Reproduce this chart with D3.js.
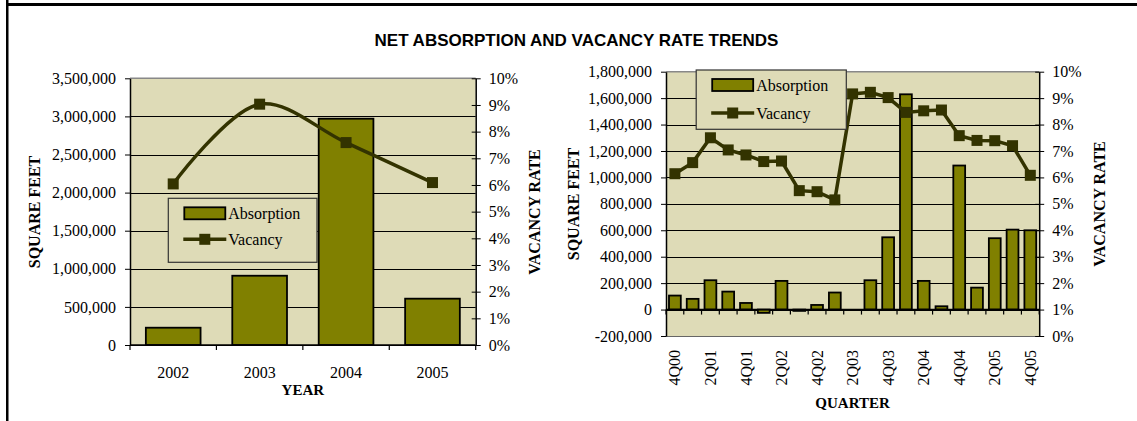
<!DOCTYPE html>
<html>
<head>
<meta charset="utf-8">
<script src="https://cdn.jsdelivr.net/npm/d3@7"></script>
<style>
  body { margin: 0; background: #fff; }
  svg text { font-family: "Liberation Serif", "Times New Roman", serif; fill: #000; }
</style>
</head>
<body>
<div id="graph"></div>
<script>
// yearly totals
const years = ["2002", "2003", "2004", "2005"];
const yearAbsorption = [227000, 909000, 2970000, 608000];
const yearVacancy = [0.0604, 0.0903, 0.0759, 0.0609];
const yearTicks = [0, 500000, 1000000, 1500000, 2000000, 2500000, 3000000, 3500000];

// quarterly
const quarters = ["4Q00", "1Q01", "2Q01", "3Q01", "4Q01", "1Q02", "2Q02", "3Q02", "4Q02", "1Q03", "2Q03",
  "3Q03", "4Q03", "1Q04", "2Q04", "3Q04", "4Q04", "1Q05", "2Q05", "3Q05", "4Q05"];
const quarterAbsorption = [106000, 81000, 222000, 136000, 50000, -25000, 217000, -10000, 35000, 129000, 0,
  222000, 547000, 1629000, 217000, 25000, 1090000, 166000, 540000, 605000, 600000];
const quarterVacancy = [0.0614, 0.0656, 0.0750, 0.0704, 0.0685, 0.0660, 0.0662, 0.0550, 0.0546, 0.0515, 0.0916,
  0.0922, 0.0902, 0.0846, 0.0852, 0.0855, 0.0758, 0.0740, 0.0739, 0.0720, 0.0608];
const quarterTicks = [-200000, 0, 200000, 400000, 600000, 800000, 1000000, 1200000, 1400000, 1600000, 1800000];
const quarterLabels = ["4Q00", "2Q01", "4Q01", "2Q02", "4Q02", "2Q03", "4Q03", "2Q04", "4Q04", "2Q05", "4Q05"];

const rateTicks = [0, 0.01, 0.02, 0.03, 0.04, 0.05, 0.06, 0.07, 0.08, 0.09, 0.10];

const plotBg = "#dedbb7";
const barColor = "#808000";
const lineColor = "#333300";

const fmtNum = d3.formatLocale({ decimal: ".", thousands: ",", grouping: [3], currency: ["$", ""], minus: "-" }).format(",");
const fmtPct = d3.format(".0%");

const svg = d3.select("#graph")
  .append("svg")
  .attr("width", 1137)
  .attr("height", 421);

// page frame
svg.append("rect").attr("x", 6).attr("y", 3).attr("width", 1131).attr("height", 3).attr("fill", "#000");
svg.append("rect").attr("x", 6).attr("y", 0).attr("width", 2.5).attr("height", 421).attr("fill", "#000");

svg.append("text")
  .attr("x", 576.5)
  .attr("y", 45.5)
  .attr("text-anchor", "middle")
  .style("font-family", "'Liberation Sans', Arial, sans-serif")
  .style("font-weight", "bold")
  .style("font-size", "17px")
  .text("NET ABSORPTION AND VACANCY RATE TRENDS");

function combo(c) {
  const g = svg.append("g");

  const x = d3.scaleBand()
    .domain(c.cats)
    .range([c.left, c.right])
    .paddingInner(c.pad)
    .paddingOuter(c.pad / 2);

  const y = d3.scaleLinear().domain(c.yDomain).range([c.bottom, c.top]);
  const y2 = d3.scaleLinear().domain([0, 0.10]).range([c.bottom, c.top]);

  g.append("rect")
    .attr("x", c.left).attr("y", c.top)
    .attr("width", c.right - c.left).attr("height", c.bottom - c.top)
    .attr("fill", plotBg);

  // gridlines
  g.selectAll(".grid")
    .data(c.yTicks.filter(t => t !== c.yDomain[1]))
    .enter()
    .append("line")
    .attr("x1", c.left).attr("x2", c.right)
    .attr("y1", d => Math.round(y(d)) + 0.5).attr("y2", d => Math.round(y(d)) + 0.5)
    .attr("stroke", d => d === c.yDomain[0] && d !== 0 ? "#666" : "#000")
    .attr("stroke-width", 1);

  // plot border top
  g.append("line")
    .attr("x1", c.left).attr("x2", c.right)
    .attr("y1", c.top).attr("y2", c.top)
    .attr("stroke", "#888").attr("stroke-width", 1.5);

  g.selectAll(".bar")
    .data(c.bars)
    .enter()
    .append("rect")
    .attr("x", (d, i) => x(c.cats[i]))
    .attr("y", d => Math.min(y(d), y(0)))
    .attr("width", x.bandwidth())
    .attr("height", d => Math.abs(y(d) - y(0)))
    .attr("fill", barColor)
    .attr("stroke", "#000")
    .attr("stroke-width", 1.8);

  // left axis
  const ya = g.append("g")
    .attr("transform", `translate(${c.left},0)`)
    .call(d3.axisLeft(y).tickValues(c.yTicks).tickFormat(fmtNum).tickSize(5).tickSizeOuter(0).tickPadding(9));
  ya.selectAll("text").style("font-size", "16px").style("font-family", "'Liberation Serif', serif");
  ya.select(".domain").attr("stroke", "#000").attr("stroke-width", 1.5);

  // right axis
  const yb = g.append("g")
    .attr("transform", `translate(${c.right},0)`)
    .call(d3.axisRight(y2).tickValues(rateTicks).tickFormat(fmtPct).tickSize(5).tickSizeOuter(0).tickPadding(8));
  yb.selectAll("line").attr("x1", -4);
  yb.selectAll("text").style("font-size", "16px").style("font-family", "'Liberation Serif', serif");
  yb.select(".domain").attr("stroke", "#000").attr("stroke-width", 1.5);

  // category axis
  const y0 = y(0);
  g.append("line")
    .attr("x1", c.left).attr("x2", c.right)
    .attr("y1", y0).attr("y2", y0)
    .attr("stroke", "#000").attr("stroke-width", 1.5);
  const edges = c.cats.map(d => x(d) - x.step() * c.pad / 2).concat([c.right]);
  g.selectAll(".xtick")
    .data(edges)
    .enter()
    .append("line")
    .attr("x1", d => d).attr("x2", d => d)
    .attr("y1", y0).attr("y2", y0 + 5)
    .attr("stroke", "#000").attr("stroke-width", 1.2);

  const cx = d => x(d) + x.bandwidth() / 2;
  if (c.rotateLabels) {
    g.selectAll(".xl")
      .data(c.labels)
      .enter()
      .append("text")
      .attr("transform", d => `translate(${cx(d)},${c.labelY}) rotate(-90)`)
      .attr("dy", "0.35em")
      .attr("text-anchor", "end")
      .style("font-size", "16px")
      .text(d => d);
  } else {
    g.selectAll(".xl")
      .data(c.labels)
      .enter()
      .append("text")
      .attr("x", cx)
      .attr("y", c.labelY)
      .attr("text-anchor", "middle")
      .style("font-size", "16px")
      .text(d => d);
  }

  // axis titles
  g.append("text")
    .attr("x", (c.left + c.right) / 2).attr("y", c.xTitleY)
    .attr("text-anchor", "middle")
    .style("font-size", "15px").style("font-weight", "bold")
    .text(c.xTitle);
  [[c.leftTitleX, "SQUARE FEET"], [c.rightTitleX, "VACANCY RATE"]].forEach(([tx, label]) => {
    g.append("text")
      .attr("transform", `translate(${tx},${c.titleMidY}) rotate(-90)`)
      .attr("dy", "0.35em")
      .attr("text-anchor", "middle")
      .style("font-size", "16px").style("font-weight", "bold")
      .text(label);
  });

  // vacancy line
  const line = d3.line()
    .x((d, i) => cx(c.cats[i]))
    .y(d => y2(d))
    .curve(c.smooth ? d3.curveCatmullRom.alpha(0.5) : d3.curveLinear);
  g.append("path")
    .datum(c.vac)
    .attr("d", line)
    .attr("fill", "none")
    .attr("stroke", lineColor)
    .attr("stroke-width", 3.5);
  g.selectAll(".mk")
    .data(c.vac)
    .enter()
    .append("rect")
    .attr("x", (d, i) => cx(c.cats[i]) - 5.5)
    .attr("y", d => y2(d) - 5.5)
    .attr("width", 11).attr("height", 11)
    .attr("fill", lineColor);

  // legend
  const L = c.legend;
  const lg = g.append("g").attr("transform", `translate(${L.x},${L.y})`);
  lg.append("rect")
    .attr("width", L.w).attr("height", L.h)
    .attr("fill", plotBg).attr("stroke", "#333").attr("stroke-width", 1.2);
  lg.append("rect")
    .attr("x", 16).attr("y", 9)
    .attr("width", 41).attr("height", 12)
    .attr("fill", barColor).attr("stroke", "#000").attr("stroke-width", 1.8);
  lg.append("text").attr("x", 60).attr("y", 15).attr("dy", "0.35em")
    .style("font-size", "16px").text("Absorption");
  lg.append("line")
    .attr("x1", 15).attr("x2", 58).attr("y1", L.row2).attr("y2", L.row2)
    .attr("stroke", lineColor).attr("stroke-width", 3.5);
  lg.append("rect")
    .attr("x", 31).attr("y", L.row2 - 5.5).attr("width", 11).attr("height", 11)
    .attr("fill", lineColor);
  lg.append("text").attr("x", 60).attr("y", L.row2).attr("dy", "0.35em")
    .style("font-size", "16px").text("Vacancy");
}

combo({
  cats: years, bars: yearAbsorption, vac: yearVacancy,
  yDomain: [0, 3500000], yTicks: yearTicks,
  left: 130, right: 475.7, top: 78.3, bottom: 345,
  pad: 0.367, smooth: true,
  labels: years, rotateLabels: false, labelY: 378,
  xTitle: "YEAR", xTitleY: 395,
  leftTitleX: 34, rightTitleX: 534, titleMidY: 212,
  legend: { x: 168.3, y: 198.3, w: 148.7, h: 64, row2: 41 }
});

combo({
  cats: quarters, bars: quarterAbsorption, vac: quarterVacancy,
  yDomain: [-200000, 1800000], yTicks: quarterTicks,
  left: 666, right: 1039.2, top: 71.7, bottom: 336,
  pad: 0.335, smooth: false,
  labels: quarterLabels, rotateLabels: true, labelY: 350,
  xTitle: "QUARTER", xTitleY: 408,
  leftTitleX: 573, rightTitleX: 1099, titleMidY: 204,
  legend: { x: 696.2, y: 70, w: 150.1, h: 59.3, row2: 43 }
});
</script>
</body>
</html>
